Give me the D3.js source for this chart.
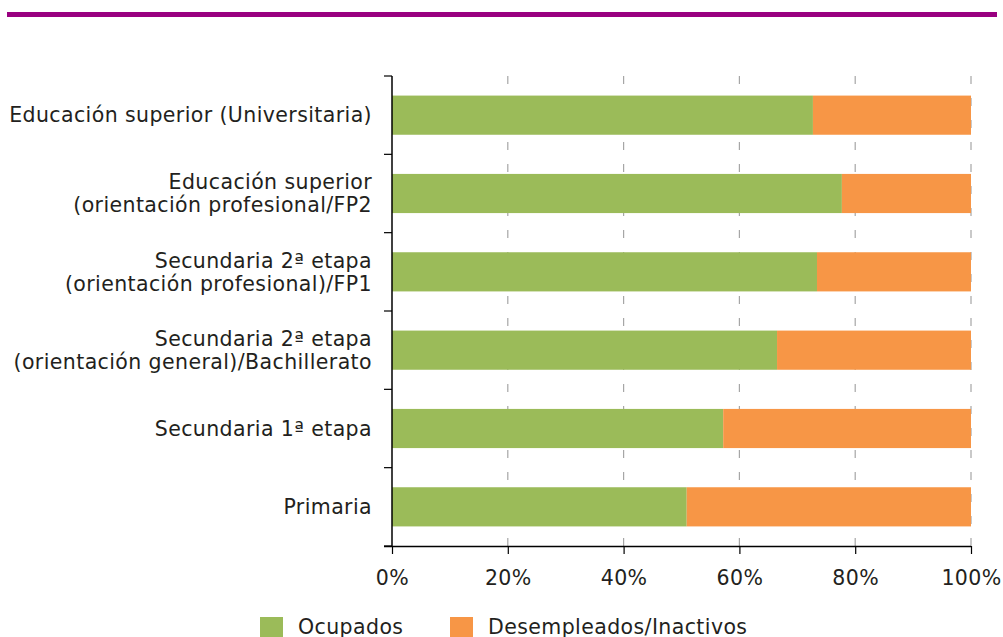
<!DOCTYPE html>
<html><head><meta charset="utf-8">
<script src="https://cdn.jsdelivr.net/npm/d3@7"></script>
<style>body{margin:0;background:#fff;} text{font-family:"DejaVu Sans",sans-serif;fill:#231f20;letter-spacing:0.4px;}</style>
</head><body>
<svg id="c" width="1003" height="637"></svg>
<script>
const categories = [
  ["Educación superior (Universitaria)"],
  ["Educación superior", "(orientación profesional/FP2"],
  ["Secundaria 2ª etapa", "(orientación profesional)/FP1"],
  ["Secundaria 2ª etapa", "(orientación general)/Bachillerato"],
  ["Secundaria 1ª etapa"],
  ["Primaria"]
];
const ocupados = [72.7, 77.7, 73.4, 66.5, 57.2, 50.9];
const desempleados = ocupados.map(v => 100 - v);
const seriesNames = ["Ocupados", "Desempleados/Inactivos"];
const colors = ["#9BBB59", "#F79646"];
const xTicks = [0, 20, 40, 60, 80, 100];

const FONT = "DejaVu Sans";
const FS = 20.5;
const svg = d3.select("#c");
svg.append("rect").attr("x", 7).attr("y", 12).attr("width", 990).attr("height", 5).attr("fill", "#990080");

const pL = 392, pR = 971, pT = 76, pB = 546;
const x = d3.scaleLinear().domain([0, 100]).range([pL, pR]);
const y = d3.scaleBand().domain(d3.range(categories.length)).range([pT, pB]).paddingInner(0.5).paddingOuter(0.25);
const yb = d3.scaleBand().domain(d3.range(categories.length)).range([pT, pB]);

// gridlines
svg.append("g").selectAll("line").data(xTicks.slice(1)).join("line")
  .attr("x1", d => x(d)).attr("x2", d => x(d)).attr("y1", pT).attr("y2", pB)
  .attr("stroke", "#a6a6a6").attr("stroke-width", 1.2).attr("stroke-dasharray", "8,14");

const stacked = categories.map((c, i) => [ocupados[i], desempleados[i]]);
stacked.forEach((vals, i) => {
  let acc = 0;
  vals.forEach((v, j) => {
    svg.append("rect").attr("x", x(acc)).attr("width", x(acc + v) - x(acc))
      .attr("y", y(i)).attr("height", y.bandwidth()).attr("fill", colors[j]);
    acc += v;
  });
});

// x axis
const xa = svg.append("g").attr("transform", `translate(0,${pB})`)
  .call(d3.axisBottom(x).tickValues(xTicks).tickFormat(d => d + "%").tickSize(8).tickPadding(16));
xa.select(".domain").attr("stroke", "#000").attr("stroke-width", 1.5).attr("d", `M${pL-8},0.5H${pR}`);
xa.selectAll(".tick line").attr("stroke", "#000").attr("stroke-width", 1.2);
xa.selectAll("text").attr("font-size", FS).attr("font-family", FONT).attr("fill", "#231f20");

// y axis line and ticks
svg.append("line").attr("x1", pL).attr("x2", pL).attr("y1", pT).attr("y2", pB).attr("stroke", "#000").attr("stroke-width", 1.5);
svg.append("g").selectAll("line").data(d3.range(categories.length + 1)).join("line")
  .attr("x1", pL - 8).attr("x2", pL).attr("y1", d => pT + d * yb.bandwidth()).attr("y2", d => pT + d * yb.bandwidth())
  .attr("stroke", "#000").attr("stroke-width", 1.2);

// category labels
categories.forEach((lines, i) => {
  const cy = y(i) + y.bandwidth() / 2;
  const lh = 23;
  const t = svg.append("text").attr("text-anchor", "end").attr("font-size", FS);
  lines.forEach((l, k) => {
    t.append("tspan").attr("x", 372).attr("y", cy + (k - (lines.length - 1) / 2) * lh).attr("dy", "0.35em").text(l);
  });
});

// legend
const lg = [[260, 298], [450, 488]];
seriesNames.forEach((n, j) => {
  svg.append("rect").attr("x", lg[j][0]).attr("y", 617).attr("width", 23).attr("height", 21).attr("fill", colors[j]);
  svg.append("text").attr("x", lg[j][1]).attr("y", 627).attr("dy", "0.35em").attr("font-size", FS).text(n);
});
</script>
</body></html>
